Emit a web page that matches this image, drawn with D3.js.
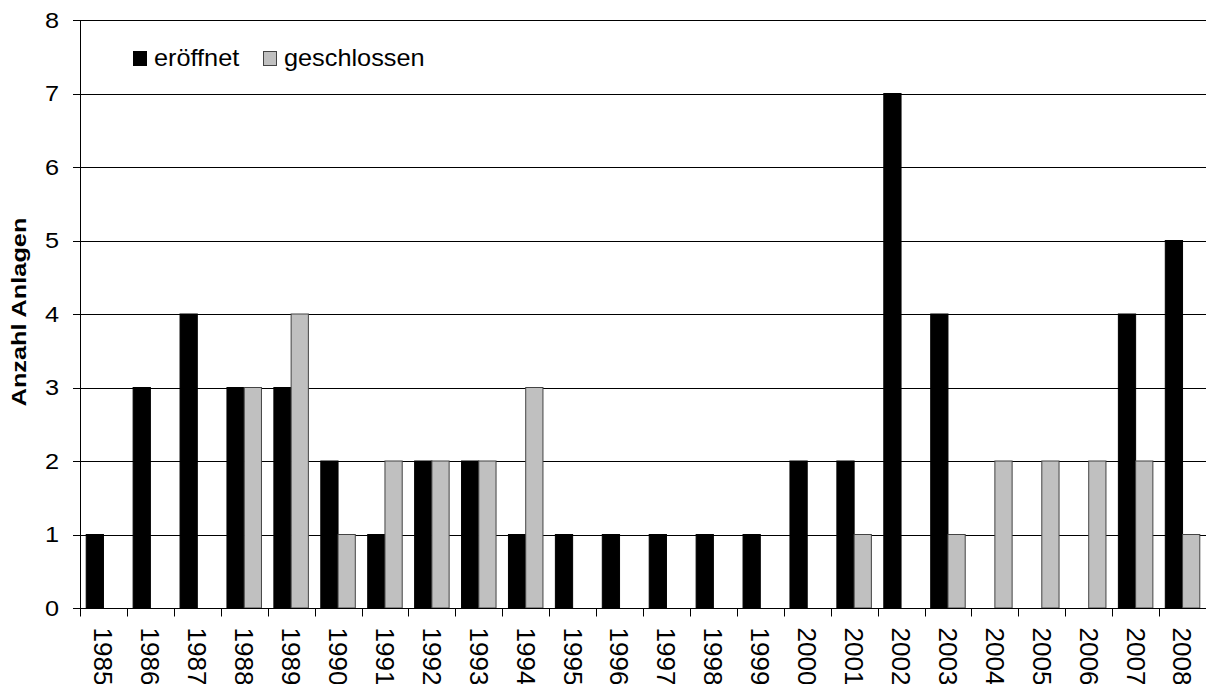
<!DOCTYPE html>
<html><head><meta charset="utf-8">
<script src="https://cdn.jsdelivr.net/npm/d3@7/dist/d3.min.js"></script>
<style>body{margin:0;background:#fff}svg{display:block}text{font-family:"Liberation Sans",Arial,sans-serif;fill:#000}</style>
</head><body>
<svg id="c" width="1206" height="684"></svg>
<script>
const years = ["1985","1986","1987","1988","1989","1990","1991","1992","1993","1994","1995","1996","1997","1998","1999","2000","2001","2002","2003","2004","2005","2006","2007","2008"];
const eroeffnet = [1,3,4,3,3,2,1,2,2,1,1,1,1,1,1,2,2,7,4,0,0,0,4,5];
const geschlossen = [0,0,0,3,4,1,2,2,2,3,0,0,0,0,0,0,1,0,1,2,2,2,2,1];
const seriesNames = ["eröffnet","geschlossen"];
const seriesColors = ["#000000","#c0c0c0"];
const yTicks = [0,1,2,3,4,5,6,7,8];

const svg = d3.select("#c");
const L = 80, R = 1206, T = 20, B = 608;
const x = d3.scaleBand().domain(years).range([L, R]).paddingInner(0).paddingOuter(0);
const xs = d3.scaleBand().domain(seriesNames).range([0, x.bandwidth()]).paddingInner(0).paddingOuter(0.36);
const y = d3.scaleLinear().domain([0, 8]).range([B, T]);

// gridlines
svg.append("g").selectAll("line").data(yTicks.filter(d=>d>0)).join("line")
  .attr("x1", L).attr("x2", R).attr("y1", d=>Math.round(y(d))+0.5).attr("y2", d=>Math.round(y(d))+0.5)
  .attr("stroke", "#000").attr("stroke-width", 1);

const data = [eroeffnet, geschlossen];
data.forEach((vals, si) => {
  svg.append("g").selectAll("rect").data(years.map((yr,i)=>({yr, v: vals[i]})).filter(d=>d.v>0)).join("rect")
    .attr("x", d => x(d.yr) + xs(seriesNames[si]))
    .attr("width", xs.bandwidth())
    .attr("y", d => y(d.v))
    .attr("height", d => y(0) - y(d.v))
    .attr("fill", seriesColors[si])
    .attr("stroke", si === 1 ? "#444" : "#000")
    .attr("stroke-width", 1);
});

// y axis
const ya = svg.append("g");
ya.append("line").attr("x1", L+0.5).attr("x2", L+0.5).attr("y1", T).attr("y2", B+8).attr("stroke", "#000");
ya.selectAll("line.tk").data(yTicks).join("line").attr("class","tk")
  .attr("x1", L-7).attr("x2", L).attr("y1", d=>Math.round(y(d))+0.5).attr("y2", d=>Math.round(y(d))+0.5).attr("stroke","#000");
ya.selectAll("text").data(yTicks).join("text")
  .attr("transform", d => `translate(${L-21},${y(d)}) scale(1.15,1)`)
  .attr("dy", "0.36em").attr("text-anchor", "end").attr("font-size", 22)
  .text(d3.format("d"));

// x axis
const xa = svg.append("g").attr("transform", `translate(0,${B+0.5})`);
xa.append("line").attr("x1", L).attr("x2", R).attr("stroke", "#000");
const bounds = years.map(d => x(d));
xa.selectAll("line.tk").data(bounds).join("line").attr("class","tk")
  .attr("x1", d=>Math.round(d)+0.5).attr("x2", d=>Math.round(d)+0.5).attr("y1", 0).attr("y2", 8).attr("stroke", "#000");
xa.selectAll("text").data(years).join("text")
  .attr("transform", d => `translate(${x(d)+x.bandwidth()/2},${19}) rotate(90)`)
  .attr("dy", "0.35em")
  .attr("font-size", 26)
  .attr("text-anchor", "start")
  .text(d => d);

// y title
svg.append("text")
  .attr("transform", `translate(26,${(T+B)/2 - 2}) rotate(-90) scale(1.15,0.95)`)
  .attr("text-anchor", "middle")
  .attr("font-size", 22).attr("font-weight", "bold")
  .text("Anzahl Anlagen");

// legend
const lg = svg.append("g");
const legX = [133, 263];
seriesNames.forEach((n, i) => {
  lg.append("rect").attr("x", legX[i]+0.5).attr("y", 51.5).attr("width", 13).attr("height", 14)
    .attr("fill", seriesColors[i]).attr("stroke", i===1 ? "#444" : "#000");
  lg.append("text").attr("transform", `translate(${legX[i] + 21},66) scale(1.1,1)`).attr("font-size", 23).text(n);
});
</script>
</body></html>
